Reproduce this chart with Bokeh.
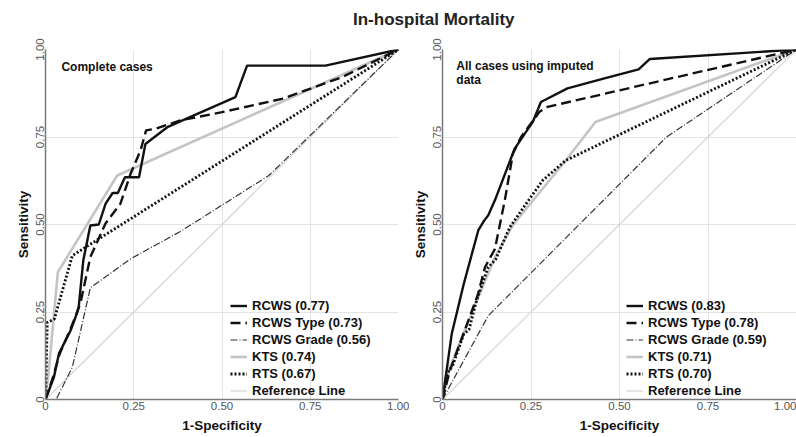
from bokeh.plotting import figure
from bokeh.models import Range1d, FixedTicker, Legend, LegendItem, Label, Div
from bokeh.layouts import column, row
from bokeh.embed import file_html
from bokeh.resources import INLINE

# ---------------- data ----------------
title_text = "In-hospital Mortality"
tick_vals = [0, 0.25, 0.5, 0.75, 1.0]
tick_labels = ["0", "0.25", "0.50", "0.75", "1.00"]
series_names = ["RCWS", "RCWS Type", "RCWS Grade", "KTS", "RTS"]

# Left panel: complete cases
left_note = ["Complete cases"]
left_auc = [0.77, 0.73, 0.56, 0.74, 0.67]
rcws_l_x = [0, 0.024, 0.038, 0.071, 0.085, 0.094, 0.107, 0.127, 0.151, 0.17, 0.19, 0.205, 0.225, 0.265, 0.283, 0.345, 0.43, 0.538, 0.571, 0.793, 1.0]
rcws_l_y = [0, 0.064, 0.131, 0.197, 0.235, 0.264, 0.397, 0.497, 0.5, 0.559, 0.59, 0.59, 0.635, 0.635, 0.73, 0.778, 0.816, 0.864, 0.954, 0.954, 1.0]
type_l_x = [0, 0.02, 0.04, 0.07, 0.09, 0.10, 0.127, 0.17, 0.212, 0.241, 0.269, 0.285, 0.31, 0.38, 0.5, 0.67, 0.84, 1.0]
type_l_y = [0, 0.06, 0.13, 0.2, 0.25, 0.28, 0.407, 0.503, 0.559, 0.645, 0.711, 0.769, 0.773, 0.797, 0.821, 0.859, 0.921, 1.0]
grade_l_x = [0, 0.03, 0.076, 0.127, 0.241, 0.382, 0.633, 1.0]
grade_l_y = [0, 0, 0.092, 0.319, 0.402, 0.48, 0.64, 1.0]
kts_l_x = [0, 0.01, 0.035, 0.203, 1.0]
kts_l_y = [0, 0.09, 0.364, 0.64, 1.0]
rts_l_x = [0, 0.005, 0.025, 0.076, 1.0]
rts_l_y = [0, 0.22, 0.23, 0.411, 1.0]

# Right panel: all cases using imputed data
right_note = ["All cases using imputed", "data"]
right_auc = [0.83, 0.78, 0.59, 0.71, 0.70]
rcws_r_x = [0, 0.026, 0.06, 0.101, 0.115, 0.129, 0.148, 0.204, 0.255, 0.278, 0.353, 0.46, 0.554, 0.586, 1.0]
rcws_r_y = [0, 0.187, 0.33, 0.483, 0.507, 0.526, 0.569, 0.717, 0.793, 0.85, 0.889, 0.918, 0.943, 0.973, 1.0]
type_r_x = [0, 0.02, 0.06, 0.1, 0.12, 0.148, 0.176, 0.199, 0.222, 0.274, 0.297, 1.0]
type_r_y = [0, 0.08, 0.19, 0.3, 0.378, 0.43, 0.569, 0.703, 0.75, 0.822, 0.836, 1.0]
grade_r_x = [0, 0.129, 0.633, 1.0]
grade_r_y = [0, 0.239, 0.75, 1.0]
kts_r_x = [0, 0.02, 0.06, 0.1, 0.15, 0.2, 0.348, 0.432, 1.0]
kts_r_y = [0, 0.09, 0.19, 0.29, 0.41, 0.5, 0.683, 0.793, 1.0]
rts_r_x = [0, 0.012, 0.03, 0.06, 0.075, 0.096, 0.129, 0.15, 0.19, 0.236, 0.283, 0.348, 1.0]
rts_r_y = [0, 0.072, 0.1, 0.187, 0.2, 0.282, 0.378, 0.4, 0.492, 0.559, 0.626, 0.683, 1.0]

ref_x = [0, 1]
ref_y = [0, 1]

FONT = "Liberation Sans"

STYLES = {
    "RCWS": dict(line_color="#111111", line_width=2.4),
    "RCWS Type": dict(line_color="#111111", line_width=2.4, line_dash="10 5"),
    "RCWS Grade": dict(line_color="#333333", line_width=1.2, line_dash="7 2 1 2"),
    "KTS": dict(line_color="#c4c4c4", line_width=2.6),
    "RTS": dict(line_color="#111111", line_width=2.8, line_dash="2 2"),
    "Reference Line": dict(line_color="#d4d4d4", line_width=1.2),
}


def make_panel(width, min_left, min_right, curves, aucs, notes, note_x, note_y0, leg_loc):
    p = figure(width=width, height=405, x_range=Range1d(0, 1), y_range=Range1d(0, 1),
               output_backend="svg", toolbar_location=None,
               min_border_left=min_left, min_border_right=min_right,
               min_border_top=17, min_border_bottom=38)
    p.outline_line_color = None
    p.background_fill_color = "white"
    for ax in (p.xaxis[0], p.yaxis[0]):
        ax.ticker = FixedTicker(ticks=tick_vals)
        ax.major_label_overrides = {v: s for v, s in zip(tick_vals, tick_labels)}
        ax.major_tick_out = 0
        ax.major_tick_in = 0
        ax.minor_tick_out = 0
        ax.minor_tick_in = 0
        ax.axis_line_color = "#7a7a7a"
        ax.axis_line_width = 1.5
        ax.major_label_text_font = FONT
        ax.major_label_text_font_size = "11.5px"
        ax.major_label_text_color = "#555555"
        ax.major_label_standoff = 2
        ax.axis_label_text_font = FONT
        ax.axis_label_text_font_size = "13.5px"
        ax.axis_label_text_font_style = "bold"
        ax.axis_label_text_color = "#111111"
        ax.axis_label_standoff = 2
    p.xaxis.axis_label_standoff = 5
    p.xaxis.axis_label = "1-Specificity"
    p.yaxis.axis_label = "Sensitivity"
    p.yaxis.major_label_orientation = "parallel"
    p.xgrid.ticker = FixedTicker(ticks=[0.25, 0.5, 0.75])
    p.ygrid.ticker = FixedTicker(ticks=[0.25, 0.5, 0.75])
    p.xgrid.grid_line_color = "#e4e4e4"
    p.ygrid.grid_line_color = "#e4e4e4"

    renderers = {}
    renderers["Reference Line"] = p.line(ref_x, ref_y, **STYLES["Reference Line"])
    for name in ["KTS", "RCWS Grade", "RTS", "RCWS Type", "RCWS"]:
        xs, ys = curves[name]
        renderers[name] = p.line(xs, ys, **STYLES[name])

    items = []
    for name, auc in zip(series_names, aucs):
        items.append(LegendItem(label=f"{name} ({auc:.2f})", renderers=[renderers[name]]))
    items.append(LegendItem(label="Reference Line", renderers=[renderers["Reference Line"]]))
    legend = Legend(items=items, location=leg_loc, padding=0, margin=0, spacing=0,
                    glyph_width=17, glyph_height=17, label_height=17, label_standoff=5,
                    label_text_font=FONT, label_text_font_size="13px",
                    label_text_font_style="bold", label_text_color="#111111",
                    border_line_color=None, background_fill_alpha=0)
    p.add_layout(legend, "center")

    for i, t in enumerate(notes):
        p.add_layout(Label(x=note_x, y=note_y0, y_offset=-14 * i, text=t,
                           text_font=FONT, text_font_size="12px", text_font_style="bold",
                           text_color="#111111", text_baseline="middle", text_align="left"))
    return p


left_curves = {
    "RCWS": (rcws_l_x, rcws_l_y), "RCWS Type": (type_l_x, type_l_y),
    "RCWS Grade": (grade_l_x, grade_l_y), "KTS": (kts_l_x, kts_l_y), "RTS": (rts_l_x, rts_l_y),
}
right_curves = {
    "RCWS": (rcws_r_x, rcws_r_y), "RCWS Type": (type_r_x, type_r_y),
    "RCWS Grade": (grade_r_x, grade_r_y), "KTS": (kts_r_x, kts_r_y), "RTS": (rts_r_x, rts_r_y),
}

p1 = make_panel(409, 45, 11, left_curves, left_auc, left_note, 0.045, 0.951, (185, 0))
p2 = make_panel(387, 30, 0, right_curves, right_auc, right_note, 0.039, 0.953, (184, 0))

title = Div(text=title_text, width=443, height=32, margin=(0, 0, 0, 353),
            styles={"font-family": FONT, "font-weight": "bold", "font-size": "17px",
                    "line-height": "40px", "color": "#222222", "white-space": "nowrap",
                    "overflow": "visible"})

layout = column(title, row(p1, p2, spacing=0), spacing=0)

open("out.html", "w").write(file_html(layout, INLINE))
